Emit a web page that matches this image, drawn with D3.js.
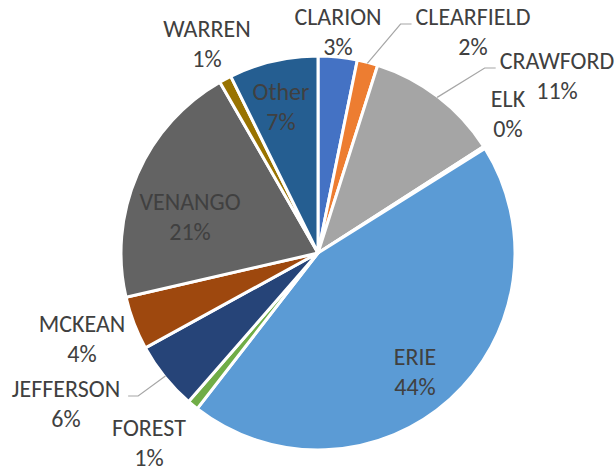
<!DOCTYPE html>
<html>
<head>
<meta charset="utf-8">
<script src="https://cdn.jsdelivr.net/npm/d3@7"></script>
<style>
  body { margin: 0; background: #fff; }
  text { font-family: Calibri, Carlito, Lato, sans-serif; font-size: 24px; fill: #404040; }
</style>
</head>
<body>
<svg id="chart" width="616" height="470"></svg>
<script>
// County share (percent)
const counties = ["CLARION", "CLEARFIELD", "CRAWFORD", "ELK", "ERIE", "FOREST",
  "JEFFERSON", "MCKEAN", "VENANGO", "WARREN", "Other"];
const shares = [3.2, 1.7, 11.0, 0.2, 44.4, 0.9, 5.6, 4.4, 20.3, 1.0, 7.3];
const pctLabels = ["3%", "2%", "11%", "0%", "44%", "1%", "6%", "4%", "21%", "1%", "7%"];

const colors = ["#4472C4", "#ED7D31", "#A5A5A5", "#FFC000", "#5B9BD5", "#70AD47",
  "#264478", "#9E480E", "#636363", "#997300", "#255E91"];

// Label anchors (centre x, first baseline) and which side a leader line goes to
const labelPos = [
  [338, 25], [473, 25], [557, 69], [508, 107], [415, 365], [149, 436],
  [66, 397], [82, 332], [190, 210], [207, 37], [281, 100]
];
const leaders = { "CLEARFIELD": "left", "CRAWFORD": "left", "JEFFERSON": "right" };

const cx = 318, cy = 253, radius = 197;

const svg = d3.select("#chart");
const g = svg.append("g").attr("transform", `translate(${cx}, ${cy})`);

const data = counties.map((c, i) => ({ name: c, value: shares[i], pct: pctLabels[i], i: i }));

const pie = d3.pie()
  .sort(null)
  .value(d => d.value);

const arc = d3.arc()
  .innerRadius(0)
  .outerRadius(radius);

const color = d3.scaleOrdinal()
  .domain(counties)
  .range(colors);

const arcs = pie(data);

// Slices
g.selectAll("path.slice")
  .data(arcs)
  .enter()
  .append("path")
  .attr("class", "slice")
  .attr("d", arc)
  .attr("fill", d => color(d.data.name))
  .attr("stroke", "#fff")
  .attr("stroke-width", 3)
  .attr("stroke-linejoin", "round");

// Data labels
const labels = svg.selectAll("text.label")
  .data(data)
  .enter()
  .append("text")
  .attr("class", "label")
  .attr("text-anchor", "middle")
  .attr("x", d => labelPos[d.i][0])
  .attr("y", d => labelPos[d.i][1]);

labels.append("tspan")
  .attr("class", "name")
  .attr("x", d => labelPos[d.i][0])
  .text(d => d.name);

labels.append("tspan")
  .attr("x", d => labelPos[d.i][0])
  .attr("dy", 29.5)
  .text(d => d.pct);

// Leader lines, from the slice edge to the side of the name
const edgeArc = d3.arc().innerRadius(radius - 1).outerRadius(radius - 1);
labels.filter(d => leaders[d.name]).each(function(d) {
  const a = arcs[d.i];
  const [sx, sy] = edgeArc.centroid(a);
  const tw = d3.select(this).select("tspan.name").node().getComputedTextLength();
  const p = labelPos[d.i];
  const side = leaders[d.name];
  const lineY = p[1] - 1;
  const endX = side === "left" ? p[0] - tw / 2 - 4 : p[0] + tw / 2 + 8;
  const elbowX = side === "left" ? endX - 11 : endX + 10;
  svg.insert("polyline", "text")
    .attr("points", [[cx + sx, cy + sy], [elbowX, lineY], [endX, lineY]].map(q => q.join(",")).join(" "))
    .attr("fill", "none")
    .attr("stroke", "#A6A6A6")
    .attr("stroke-width", 1.2);
});
</script>
</body>
</html>
